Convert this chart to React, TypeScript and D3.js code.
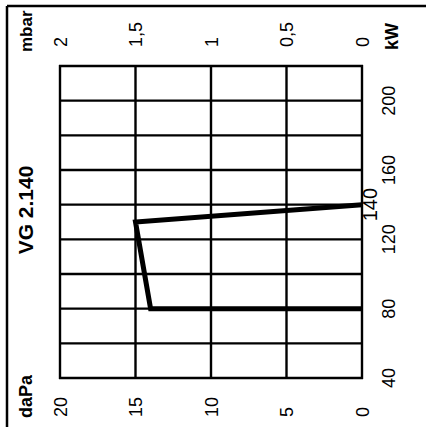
import React from 'react';
import * as d3 from 'd3';

// working field VG 2.140 (drawn rotated: kW runs upward, pressure runs leftward)
const kwGridValues = [40, 60, 80, 100, 120, 140, 160, 180, 200, 220];
const kwTickLabels = [40, 80, 120, 160, 200];
const daPaTicks = [0, 5, 10, 15, 20];
const mbarTickLabels = ['0', '0,5', '1', '1,5', '2'];
const fieldKw = [80, 80, 130, 140];
const fieldDaPa = [0, 14, 15, 0];
const maxKwLabel = '140';
const title = 'VG 2.140';

const W = 426;
const H = 427;
const FONT = "'Liberation Sans', 'DejaVu Sans', sans-serif";

const App: React.FC = () => {
  const x = d3.scaleLinear().domain([20, 0]).range([60, 362]);
  const y = d3.scaleLinear().domain([40, 220]).range([378, 66]);

  const pts: [number, number][] = fieldKw.map((k, i) => [fieldDaPa[i], k]);
  const line = d3.line<[number, number]>()
    .x(d => x(d[0]))
    .y(d => y(d[1]));

  const rot = (cx: number, cy: number) => `translate(${cx},${cy}) rotate(-90)`;
  const txt = { fontFamily: FONT };

  return (
    <svg width={W} height={H} style={{ position: 'absolute', left: 0, top: 0, background: '#fff' }}>
      {/* frame (top and left only) */}
      <line x1={7} x2={W} y1={6} y2={6} stroke="#000" strokeWidth={2.5} />
      <line x1={7} x2={7} y1={6} y2={H} stroke="#000" strokeWidth={2.5} />

      {/* grid */}
      {kwGridValues.map(k => (
        <line key={'h' + k} x1={x(20) - 1} x2={x(0) + 1} y1={y(k)} y2={y(k)} stroke="#000" strokeWidth={2.4} />
      ))}
      {daPaTicks.map(p => (
        <line key={'v' + p} x1={x(p)} x2={x(p)} y1={y(40) + 1} y2={y(220) - 1} stroke="#000" strokeWidth={2.4} />
      ))}

      {/* working field */}
      <path d={line(pts) || ''} fill="none" stroke="#000" strokeWidth={5} strokeLinejoin="miter" />

      {/* mbar labels on top */}
      {daPaTicks.map((p, i) => (
        <text key={'m' + p} transform={rot(x(p) + 6.5, 47)} fontSize={18} style={txt}>{mbarTickLabels[i]}</text>
      ))}
      {/* daPa labels at bottom */}
      {daPaTicks.map(p => (
        <text key={'d' + p} transform={rot(x(p) + 6.5, 417)} fontSize={18} style={txt}>{p}</text>
      ))}
      {/* kW labels on right */}
      {kwTickLabels.map(k => (
        <text key={'k' + k} transform={rot(395, y(k))} fontSize={18} textAnchor="middle" style={txt}>{k}</text>
      ))}
      <text transform={rot(377, y(140))} fontSize={20} textAnchor="middle" style={txt}>{maxKwLabel}</text>

      {/* unit labels */}
      <text transform={rot(32, 52)} fontSize={17} fontWeight="bold" style={txt}>mbar</text>
      <text transform={rot(32, 418)} fontSize={18} fontWeight="bold" style={txt}>daPa</text>
      <text transform={rot(398, 50)} fontSize={18} fontWeight="bold" style={txt}>kW</text>
      <text transform={rot(33, 210)} fontSize={21} fontWeight="bold" textAnchor="middle" style={txt}>{title}</text>
    </svg>
  );
};

export default App;
